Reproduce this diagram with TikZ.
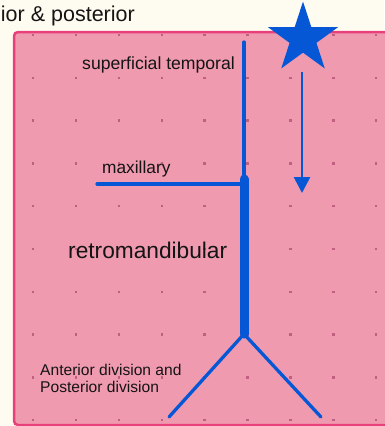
\documentclass[tikz,border=0pt]{standalone}
\usepackage{fontspec}
\setmainfont{Liberation Sans}
\usetikzlibrary{arrows.meta,shapes.geometric}
\definecolor{bgcream}{RGB}{254,252,240}
\definecolor{pinkfill}{RGB}{240,154,176}
\definecolor{pinkedge}{RGB}{232,64,122}
\definecolor{nerveblue}{RGB}{6,87,214}
\definecolor{dotcol}{RGB}{192,96,128}
\definecolor{txt}{RGB}{20,20,20}
\tikzset{
  lbl/.style={inner sep=0pt, text=txt, anchor=base west},
  nerve/.style={draw=nerveblue, line width=3.3pt, line cap=round},
  thicknerve/.style={draw=nerveblue, line width=9pt},
  gdot/.style={fill=dotcol, draw=none}
}
\begin{document}
\begin{tikzpicture}[x=1pt,y=-1pt]
\useasboundingbox (0,0) rectangle (384,426);
\fill[bgcream] (0,0) rectangle (384,426);
% pink panel
\draw[pinkedge, fill=pinkfill, line width=2.5pt, rounded corners=4pt] (14,32) rectangle (400,425);
% grid dots
\foreach \i in {0,...,8} {
  \foreach \j in {0,...,9} {
    \fill[gdot] ({33+42.9*\i-1.2},{35+42.8*\j-1.2}) rectangle ++(2.4,2.4);
  }
}
% title
\node[inner sep=0pt, text=txt, anchor=base east, font=\fontsize{21.5}{25}\selectfont] (title) at (135,21) {ior \& posterior};
% labels
\node[lbl, font=\fontsize{17.6}{20}\selectfont] (sup) at (82,69) {superficial temporal};
\node[lbl, font=\fontsize{17.3}{20}\selectfont] (max) at (102,173) {maxillary};
\node[lbl, font=\fontsize{22.7}{26}\selectfont] (retro) at (68,258) {retromandibular};
\node[lbl, font=\fontsize{15.6}{16.5}\selectfont, align=left, anchor=north west] (div) at (40,364) {Anterior division and\\Posterior division};
% coordinates
\coordinate (stTop) at (244,42);
\coordinate (stBot) at (244,182);
\coordinate (jTop) at (244,179);
\coordinate (jBot) at (244,334);
\coordinate (mxL) at (97,184);
\coordinate (mxR) at (244,184);
\coordinate (brL) at (169,417);
\coordinate (brR) at (321,417);
% star
\node[star, star points=5, star point ratio=2.618, minimum size=74pt, inner sep=0pt, fill=nerveblue, draw=none] (star) at (303,38.5) {};
\coordinate (arStart) at (302,72);
\coordinate (arEnd) at (302,193);
\draw[draw=nerveblue, line width=2.7pt, -{Triangle[width=16pt,length=16pt]}] (arStart) -- (arEnd);
% nerves
\draw[nerve] (stTop) -- (stBot);
\draw[nerve] (mxL) -- (mxR);
\draw[thicknerve, line cap=round] (jTop) -- (jBot);
\draw[nerve] (jBot) -- (brL);
\draw[nerve] (jBot) -- (brR);
\end{tikzpicture}
\end{document}
